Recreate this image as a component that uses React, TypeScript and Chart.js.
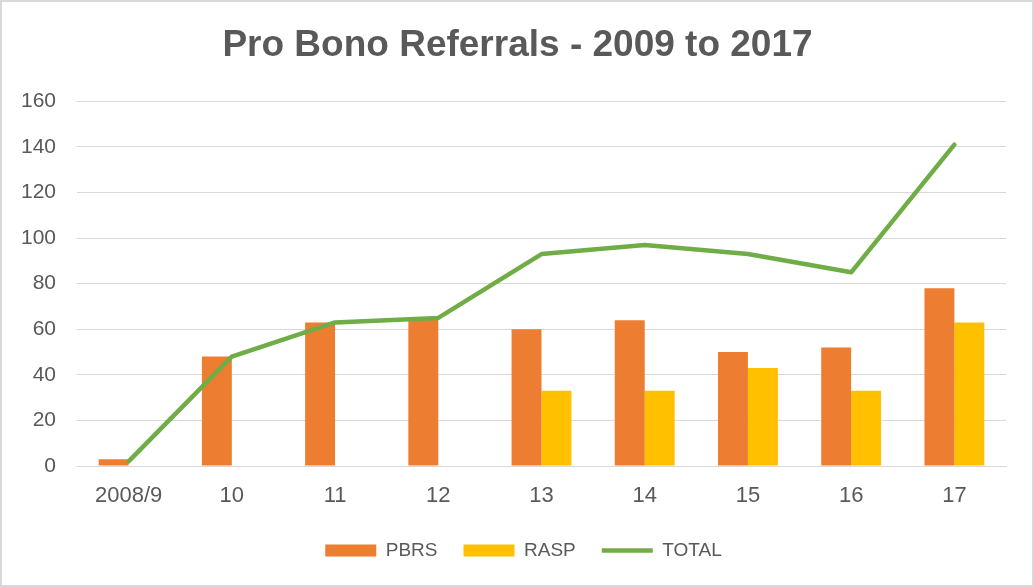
import React, { useEffect, useRef } from "react";
import { Chart, registerables } from "chart.js";

Chart.register(...registerables);

const categories = ["2008/9", "10", "11", "12", "13", "14", "15", "16", "17"];
const pbrs = [3, 48, 63, 65, 60, 64, 50, 52, 78];
const rasp = [0, 0, 0, 0, 33, 33, 43, 33, 63];
const total = [2, 48, 63, 65, 93, 97, 93, 85, 141];
const yTicks = [0, 20, 40, 60, 80, 100, 120, 140, 160];

const TEXT = "#595959";
const FONT = "'Liberation Sans', Arial, sans-serif";

const shiftBoxes = {
  id: "shiftBoxes",
  afterLayout(chart: any) {
    const lg = chart.legend;
    if (lg) {
      lg.left += 12;
      lg.right += 12;
    }
    const tt = chart.titleBlock;
    if (tt) {
      tt.left += 6;
      tt.right += 6;
    }
  },
};

export default function App() {
  const ref = useRef<HTMLCanvasElement | null>(null);
  useEffect(() => {
    const canvas = ref.current;
    if (!canvas) return;
    const chart = new Chart(canvas, {
      type: "bar",
      data: {
        labels: categories,
        datasets: [
          {
            label: "PBRS",
            data: pbrs,
            backgroundColor: "#ed7d31",
            borderWidth: 0,
            order: 1,
          },
          {
            label: "RASP",
            data: rasp,
            backgroundColor: "#ffc000",
            borderWidth: 0,
            order: 1,
          },
          {
            type: "line",
            label: "TOTAL",
            data: total,
            borderColor: "#70ad47",
            backgroundColor: "#70ad47",
            borderWidth: 4.5,
            pointRadius: 0,
            tension: 0,
            fill: false,
            borderCapStyle: "round",
            borderJoinStyle: "round",
            order: 0,
          } as any,
        ],
      },
      plugins: [shiftBoxes],
      options: {
        animation: false,
        responsive: false,
        maintainAspectRatio: false,
        layout: { padding: { left: 15, right: 26, top: 0, bottom: 15 } },
        datasets: { bar: { categoryPercentage: 0.58, barPercentage: 1.0 } } as any,
        plugins: {
          title: {
            display: true,
            text: "Pro Bono Referrals - 2009 to 2017",
            color: TEXT,
            font: { family: FONT, size: 37, weight: "bold" },
            padding: { top: 22, bottom: 33 },
          },
          legend: {
            position: "bottom",
            labels: {
              color: TEXT,
              font: { family: FONT, size: 19 },
              usePointStyle: true,
              pointStyleWidth: 51,
              boxHeight: 12,
              padding: 26,
              sort: (a: any, b: any) => a.datasetIndex - b.datasetIndex,
              generateLabels: (ch: any) => {
                const items = Chart.defaults.plugins.legend.labels.generateLabels(ch);
                return items.map((it: any) => {
                  const ds = ch.data.datasets[it.datasetIndex];
                  if (ds.type === "line") {
                    return { ...it, pointStyle: "line", lineWidth: 4.5, strokeStyle: "#70ad47", fillStyle: "#70ad47" };
                  }
                  return { ...it, pointStyle: "rect", lineWidth: 0, strokeStyle: "transparent" };
                });
              },
            },
          },
          tooltip: { enabled: false },
        },
        scales: {
          x: {
            grid: { display: false },
            border: { display: true, color: "#d9d9d9", width: 1 },
            ticks: { color: TEXT, font: { family: FONT, size: 22 }, padding: 9 },
            afterFit: (scale: any) => {
              scale.height = 49;
            },
          },
          y: {
            min: 0,
            max: 160,
            afterBuildTicks: (scale: any) => {
              scale.ticks = yTicks.map((v) => ({ value: v }));
            },
            afterFit: (scale: any) => {
              scale.width = 60;
            },
            grid: { color: "#d9d9d9", lineWidth: 1, drawTicks: false },
            border: { display: false },
            ticks: { color: TEXT, font: { family: FONT, size: 21 }, padding: 21 },
          },
        },
      },
    });
    return () => chart.destroy();
  }, []);
  return (
    <div
      style={{
        position: "absolute",
        left: 0,
        top: 0,
        width: 1034,
        height: 587,
        boxSizing: "border-box",
        border: "2px solid #d9d9d9",
        background: "#ffffff",
      }}
    >
      <canvas ref={ref} width={1030} height={583} style={{ display: "block" }} />
    </div>
  );
}
